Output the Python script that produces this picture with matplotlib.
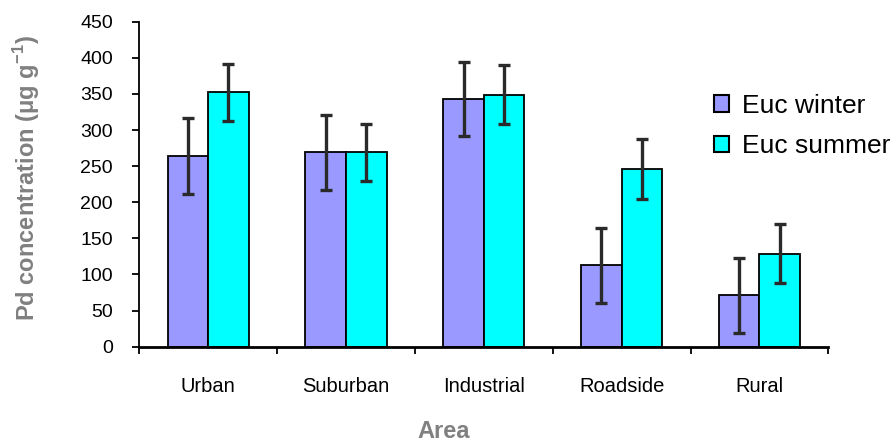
import numpy as np
import matplotlib.pyplot as plt
from matplotlib.patches import Patch

areas = ['Urban', 'Suburban', 'Industrial', 'Roadside', 'Rural']
winter = [264, 269, 343, 113, 71]
summer = [352, 269, 349, 246, 129]
winter_err = [52, 52, 51, 52, 52]
summer_err = [40, 40, 41, 41, 41]

plt.rcParams['font.family'] = ['Liberation Sans', 'DejaVu Sans']

fig = plt.figure(figsize=(8.9, 4.42), dpi=100)
ax = fig.add_axes([139.3 / 890, 1 - 346.7 / 442, 689 / 890, 325 / 442])

x = np.arange(len(areas))
w = 0.294
ax.bar(x - w / 2, winter, w, color='#9999FF', edgecolor='black', linewidth=1.3, zorder=2)
ax.bar(x + w / 2, summer, w, color='#00FFFF', edgecolor='black', linewidth=1.3, zorder=2)
ax.errorbar(x - w / 2, winter, yerr=winter_err, fmt='none', ecolor='#2a2a2a',
            elinewidth=2.4, capsize=4, capthick=2.4, zorder=3)
ax.errorbar(x + w / 2, summer, yerr=summer_err, fmt='none', ecolor='#2a2a2a',
            elinewidth=2.4, capsize=4, capthick=2.4, zorder=3)

ax.set_xlim(-0.5, len(areas) - 0.5)
ax.set_ylim(0, 450)
ax.set_yticks(np.arange(0, 451, 50))
ax.set_xticks(np.arange(-0.5, len(areas), 1.0))
ax.set_xticklabels([])
ax.set_xticks(x, minor=True)
ax.set_xticklabels(areas, minor=True)
ax.tick_params(axis='x', which='major', direction='out', length=5, width=1.3)
ax.tick_params(axis='x', which='minor', length=0, pad=22, labelsize=14.5)
ax.tick_params(axis='y', direction='out', length=5, width=1.3, pad=14, labelsize=14)

for s in ['top', 'right']:
    ax.spines[s].set_visible(False)
ax.spines['left'].set_linewidth(1.3)
ax.spines['bottom'].set_linewidth(2)

ax.set_ylabel('Pd concentration (\u03bcg g$^{\\mathregular{-1}}$)', fontsize=17,
              fontweight='bold', color='#808080')
ax.yaxis.set_label_coords(-0.141, 0.52)
fig.text(444 / 890, 1 - 432 / 442, 'Area', fontsize=17, fontweight='bold', color='#808080',
         ha='center', va='center')

handles = [Patch(facecolor='#9999FF', edgecolor='black', linewidth=1.5),
           Patch(facecolor='#00FFFF', edgecolor='black', linewidth=1.5)]
ax.legend(handles, ['Euc winter', 'Euc summer'], loc='upper left',
          bbox_to_anchor=(714 / 890, 1 - 94 / 442), bbox_transform=fig.transFigure,
          frameon=False, fontsize=19, handlelength=0.55, handleheight=0.6,
          handletextpad=0.5, labelspacing=0.62, borderpad=0, borderaxespad=0)

fig.savefig('out.png', dpi=100)
